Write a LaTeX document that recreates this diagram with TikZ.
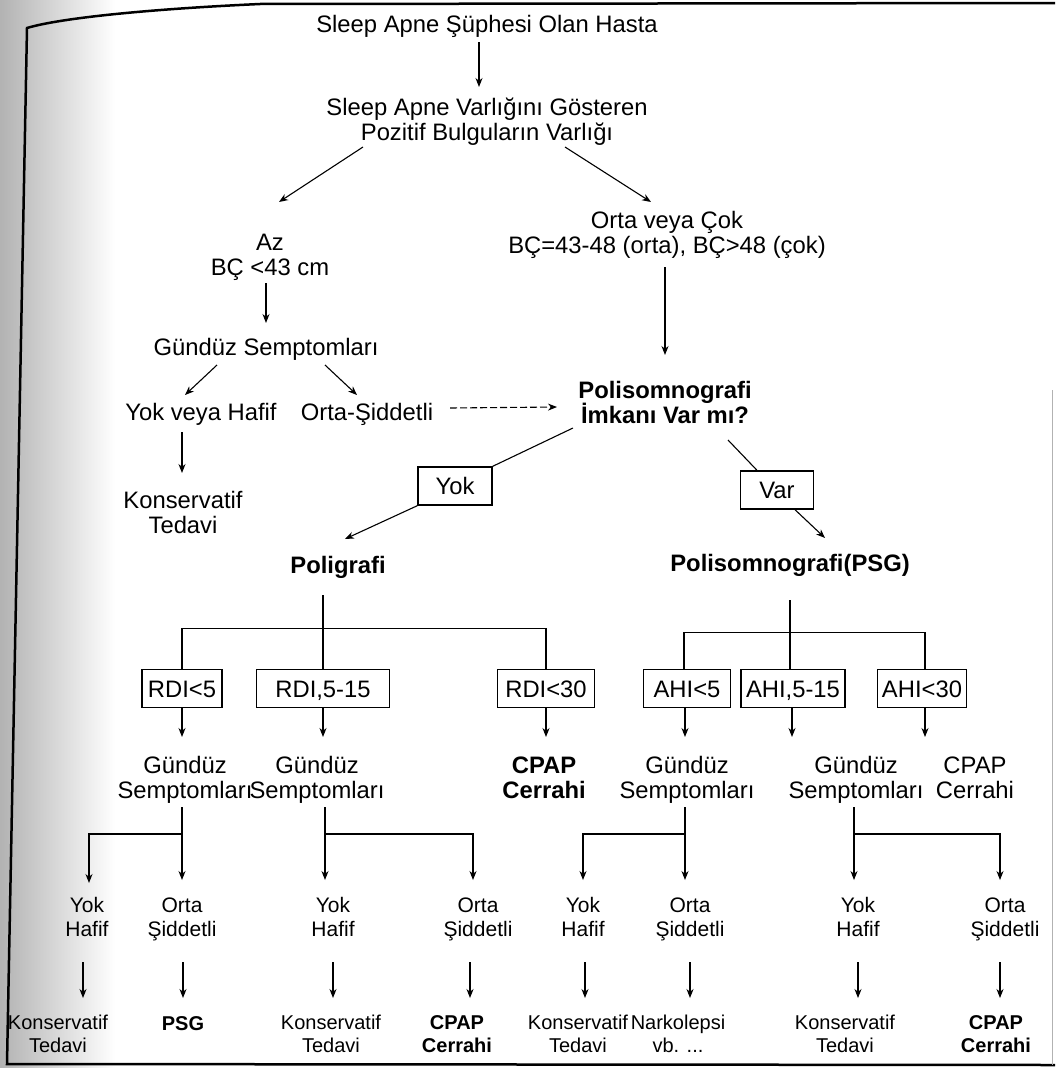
\documentclass[tikz,border=0pt]{standalone}
\usepackage{fontspec}
\setmainfont{Liberation Sans}
\usetikzlibrary{arrows.meta,calc}
\newcommand{\lnA}[1]{\raisebox{0pt}[20pt][3pt]{#1}}
\newcommand{\lnB}[1]{\raisebox{0pt}[17.5pt][2.5pt]{#1}}
\newcommand{\lnC}[1]{\raisebox{0pt}[16.8pt][2.5pt]{#1}}
\tikzset{
  txt/.style={inner sep=0pt, align=center, font=\fontsize{23.8}{25}\selectfont},
  txtb/.style={inner sep=0pt, align=center, font=\fontsize{23.8}{25}\selectfont\bfseries},
  sm/.style={inner sep=0pt, align=center, font=\fontsize{21}{24}\selectfont},
  bt/.style={inner sep=0pt, align=center, font=\fontsize{20}{23}\selectfont},
  btb/.style={inner sep=0pt, align=center, font=\fontsize{20}{23}\selectfont\bfseries},
  bx/.style={draw, line width=1.4pt, inner sep=0pt, minimum height=38pt, font=\fontsize{23.8}{25}\selectfont},
  arr/.style={line width=1.1pt, -{Stealth[length=9pt,width=7pt]}},
  ln/.style={line width=1.1pt},
}
\begin{document}
\begin{tikzpicture}[x=1pt,y=-1pt]
\useasboundingbox (0,0) rectangle (1055,1068);
\fill[white] (0,0) rectangle (1055,1068);
\shade[left color=gray!60,right color=white] (0,0) rectangle (115,1068);
% frame
\draw[line width=2.5pt] (1055,3) -- (260,4) .. controls (150,9) and (60,18) .. (27,28) -- (7,1064) -- (1055,1065);
\draw[gray!60,line width=0.8pt] (1052,390) -- (1052,1065);

% upper part
\node[txt] (n1) at (487,24) {\lnA{Sleep Apne Şüphesi Olan Hasta}};
\node[txt] (n2) at (487,119) {\lnA{Sleep Apne Varlığını Gösteren}\\\lnA{Pozitif Bulguların Varlığı}};
\node[txt] (az) at (270,254) {\lnA{Az}\\\lnA{BÇ <43 cm}};
\node[txt] (ocok) at (667,232) {\lnA{Orta veya Çok}\\\lnA{BÇ=43-48 (orta), BÇ>48 (çok)}};
\node[txt] (gs) at (266,347) {\lnA{Gündüz Semptomları}};
\node[txt] (yvh) at (201,412) {\lnA{Yok veya Hafif}};
\node[txt] (osid) at (367,412) {\lnA{Orta-Şiddetli}};
\node[txtb] (pim) at (665,402) {\lnA{Polisomnografi}\\\lnA{İmkanı Var mı?}};
\node[txt] (kt0) at (183,512) {\lnA{Konservatif}\\\lnA{Tedavi}};
\node[bx, minimum width=74pt] (yokb) at (455,486) {\lnA{Yok}};
\node[bx, minimum width=73pt] (varb) at (777,490) {\lnA{Var}};
\node[txtb] (polig) at (338,565) {\lnA{Poligrafi}};
\node[txtb] (psg) at (790,563) {\lnA{Polisomnografi(PSG)}};

% boxes
\node[bx, minimum width=80pt] (rdi1) at (182,688.5) {\lnA{RDI<5}};
\node[bx, minimum width=133pt] (rdi2) at (323,688.5) {\lnA{RDI,5-15}};
\node[bx, minimum width=97pt] (rdi3) at (546,688.5) {\lnA{RDI<30}};
\node[bx, minimum width=87pt] (ahi1) at (687,688.5) {\lnA{AHI<5}};
\node[bx, minimum width=104pt] (ahi2) at (793,688.5) {\lnA{AHI,5-15}};
\node[bx, minimum width=89pt] (ahi3) at (922,688.5) {\lnA{AHI<30}};

% symptom row
\node[txt] (gs1) at (185,777) {\lnA{Gündüz}\\\lnA{Semptomları}};
\node[txt] (gs2) at (317,777) {\lnA{Gündüz}\\\lnA{Semptomları}};
\node[txtb] (cpap1) at (544,777) {\lnA{CPAP}\\\lnA{Cerrahi}};
\node[txt] (gs3) at (687,777) {\lnA{Gündüz}\\\lnA{Semptomları}};
\node[txt] (gs4) at (856,777) {\lnA{Gündüz}\\\lnA{Semptomları}};
\node[txt] (cpap2) at (975,777) {\lnA{CPAP}\\\lnA{Cerrahi}};

% severity row
\node[sm] (yh1) at (87,917) {\lnB{Yok}\\\lnB{Hafif}};
\node[sm] (os1) at (182,917) {\lnB{Orta}\\\lnB{Şiddetli}};
\node[sm] (yh2) at (333,917) {\lnB{Yok}\\\lnB{Hafif}};
\node[sm] (os2) at (478,917) {\lnB{Orta}\\\lnB{Şiddetli}};
\node[sm] (yh3) at (583,917) {\lnB{Yok}\\\lnB{Hafif}};
\node[sm] (os3) at (690,917) {\lnB{Orta}\\\lnB{Şiddetli}};
\node[sm] (yh4) at (858,917) {\lnB{Yok}\\\lnB{Hafif}};
\node[sm] (os4) at (1005,917) {\lnB{Orta}\\\lnB{Şiddetli}};

% bottom row
\node[bt] (b1) at (58,1034) {\lnC{Konservatif}\\\lnC{Tedavi}};
\node[btb] (b2) at (183,1023) {\lnC{PSG}};
\node[bt] (b3) at (331,1034) {\lnC{Konservatif}\\\lnC{Tedavi}};
\node[btb] (b4) at (457,1034) {\lnC{CPAP}\\\lnC{Cerrahi}};
\node[bt] (b5) at (578,1034) {\lnC{Konservatif}\\\lnC{Tedavi}};
\node[bt] (b6) at (678,1034) {\lnC{Narkolepsi}\\\lnC{vb. ...}};
\node[bt] (b7) at (845,1034) {\lnC{Konservatif}\\\lnC{Tedavi}};
\node[btb] (b8) at (996,1034) {\lnC{CPAP}\\\lnC{Cerrahi}};

% connectors, upper
\draw[arr] ($(n1)+(-8,18)$) -- ($(n2)+(-8,-32)$);
\draw[arr] ($(n2)+(-124,28)$) -- ($(az)+(9,-52)$);
\draw[arr] ($(n2)+(78,28)$) -- ($(ocok)+(-16,-30)$);
\draw[arr] ($(az)+(-4,29)$) -- ($(gs)+(0,-24)$);
\draw[arr] ($(ocok)+(-2,35)$) -- ($(pim)+(0,-47)$);
\draw[arr] ($(gs)+(-49,18)$) -- ($(yvh)+(-16,-17)$);
\draw[arr] ($(gs)+(59,18)$) -- ($(osid)+(-10,-17)$);
\draw[arr,dashed,dash pattern=on 7pt off 3pt] ($(osid)+(83,-4)$) -- ($(pim)+(-108,5)$);
\draw[arr] ($(yvh)+(-19,20)$) -- ($(kt0)+(-1,-39)$);
\draw[ln] ($(pim)+(-92,26)$) -- (yokb.north east);
\draw[arr] (yokb.south west) -- ($(polig)+(7,-26)$);
\draw[ln] ($(pim)+(63,38)$) -- ($(varb.north)+(-20,0)$);
\draw[arr] ($(varb.south)+(18,0)$) -- ($(psg)+(35,-25)$);

% trees
\draw[ln] ($(polig)+(-15,30)$) -- (rdi2.north);
\draw[ln] (rdi1.north) -- ++(0,-40) -| (rdi3.north);
\draw[ln] ($(psg)+(0,37)$) -- ($(ahi2.north)+(-3,0)$);
\draw[ln] ($(ahi1.north)+(-3,0)$) -- ++(0,-36) -| ($(ahi3.north)+(3,0)$);

\draw[arr] (rdi1.south) -- ($(gs1)+(-3,-40)$);
\draw[arr] (rdi2.south) -- ($(gs2)+(6,-40)$);
\draw[arr] (rdi3.south) -- ($(cpap1)+(2,-40)$);
\draw[arr] ($(ahi1.south)+(-2,0)$) -- ($(gs3)+(-2,-40)$);
\draw[arr] ($(ahi2.south)+(-1,0)$) -- ($(gs4)+(-64,-40)$);
\draw[arr] ($(ahi3.south)+(3,0)$) -- ($(cpap2)+(-50,-40)$);

\draw[arr] ($(gs1)+(-3,30)$) -- ($(os1)+(0,-37)$);
\draw[arr] ($(gs1)+(-3,57)$) -| ($(yh1)+(2,-34)$);
\draw[arr] ($(gs2)+(8,30)$) -- ($(yh2)+(-8,-37)$);
\draw[arr] ($(gs2)+(8,57)$) -| ($(os2)+(-5,-37)$);
\draw[arr] ($(gs3)+(-2,30)$) -- ($(os3)+(-5,-37)$);
\draw[arr] ($(gs3)+(-2,57)$) -| ($(yh3)+(0,-37)$);
\draw[arr] ($(gs4)+(-2,30)$) -- ($(yh4)+(-4,-37)$);
\draw[arr] ($(gs4)+(-2,57)$) -| ($(os4)+(-5,-37)$);

\draw[arr] ($(yh1)+(-4,45)$) -- ($(b1)+(25,-36)$);
\draw[arr] ($(os1)+(1,45)$) -- ($(b2)+(0,-25)$);
\draw[arr] ($(yh2)+(0,45)$) -- ($(b3)+(2,-36)$);
\draw[arr] ($(os2)+(-8,45)$) -- ($(b4)+(13,-36)$);
\draw[arr] ($(yh3)+(2,45)$) -- ($(b5)+(7,-36)$);
\draw[arr] ($(os3)+(0,45)$) -- ($(b6)+(12,-36)$);
\draw[arr] ($(yh4)+(0,45)$) -- ($(b7)+(13,-36)$);
\draw[arr] ($(os4)+(-5,45)$) -- ($(b8)+(4,-36)$);
\end{tikzpicture}
\end{document}
